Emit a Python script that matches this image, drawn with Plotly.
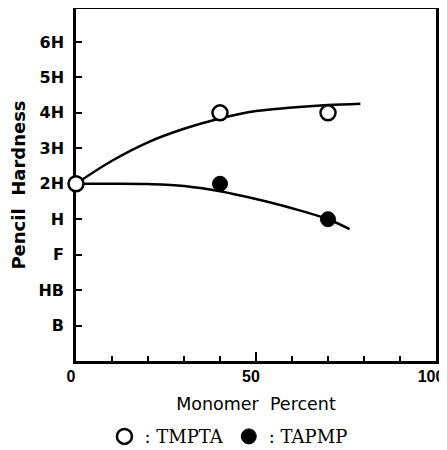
import plotly.graph_objects as go

# Hardness grades (B=1 ... 6H=9)
grade_vals = [1, 2, 3, 4, 5, 6, 7, 8, 9]
grade_text = ["B", "HB", "F", "H", "2H", "3H", "4H", "5H", "6H"]

# Measured points
tmpta_x = [0, 40, 70]
tmpta_y = [5, 7, 7]          # 2H, 4H, 4H
tapmp_x = [40, 70]
tapmp_y = [5, 4]             # 2H, H

# Hand-drawn trend curves
tmpta_curve_x = [0, 10, 20, 30, 40, 50, 60, 70, 79]
tmpta_curve_y = [5.0, 5.65, 6.17, 6.55, 6.84, 7.05, 7.15, 7.22, 7.26]
tapmp_curve_x = [0, 10, 20, 30, 40, 50, 60, 70, 76]
tapmp_curve_y = [5.0, 5.0, 4.99, 4.94, 4.79, 4.57, 4.31, 4.0, 3.72]

x_ticks = [0, 50, 100]
x_tick_text = ["0", "50", "100"]

fig = go.Figure()
fig.add_trace(go.Scatter(x=tmpta_curve_x, y=tmpta_curve_y, mode="lines",
                         line=dict(color="black", width=2.5, shape="spline", smoothing=1.0),
                         showlegend=False, hoverinfo="skip"))
fig.add_trace(go.Scatter(x=tapmp_curve_x, y=tapmp_curve_y, mode="lines",
                         line=dict(color="black", width=2.5, shape="spline", smoothing=1.0),
                         showlegend=False, hoverinfo="skip"))
fig.add_trace(go.Scatter(x=tapmp_x, y=tapmp_y, mode="markers", name=": TAPMP",
                         marker=dict(symbol="circle", size=15, color="black",
                                     line=dict(color="black", width=1)),
                         cliponaxis=False))
fig.add_trace(go.Scatter(x=tmpta_x, y=tmpta_y, mode="markers", name=": TMPTA",
                         marker=dict(symbol="circle", size=15, color="white",
                                     line=dict(color="black", width=2.5)),
                         cliponaxis=False))

# page body has an 8px margin, so the figure is sized to fit the 447x450 window
fig.update_layout(
    width=439, height=442,
    margin=dict(l=68, r=11, t=1, b=88.5, autoexpand=False),
    paper_bgcolor="white", plot_bgcolor="white",
    showlegend=True,
    legend=dict(orientation="h", x=0.079, xanchor="left", y=-0.215, yanchor="middle",
                font=dict(family="DejaVu Serif", size=18, color="black"),
                traceorder="reversed", itemwidth=30,
                bgcolor="rgba(0,0,0,0)"),
    xaxis=dict(range=[0, 100], tickvals=x_ticks, ticktext=x_tick_text,
               ticks="inside", ticklen=9, tickwidth=2, tickcolor="black",
               minor=dict(dtick=10, tick0=0, ticks="inside", ticklen=5, tickwidth=1.5, tickcolor="black"),
               showline=True, linecolor="black", linewidth=2.5, mirror=True,
               showgrid=False, zeroline=False, automargin=False, layer="below traces",
               tickfont=dict(family="Liberation Sans", size=16, color="black", weight="bold"),
               ticklabelstandoff=-1, ticklabelshift=-5, ticklabeloverflow="allow",
               title=dict(text="Monomer  Percent", standoff=14,
                          font=dict(family="DejaVu Sans", size=17.5, color="black"))),
    yaxis=dict(range=[0, 9.93], tickvals=grade_vals, ticktext=grade_text,
               ticks="inside", ticklen=6, tickwidth=2, tickcolor="black",
               showline=True, linecolor="black", linewidth=2.5, mirror=True,
               showgrid=False, zeroline=False, automargin=False, layer="below traces",
               tickfont=dict(family="DejaVu Sans", size=16, color="black", weight="bold"),
               ticklabelstandoff=6,
               title=dict(text="Pencil  Hardness", standoff=15,
                          font=dict(family="DejaVu Sans", size=18, color="black", weight="bold"))),
)

fig.write_html("out.html")
